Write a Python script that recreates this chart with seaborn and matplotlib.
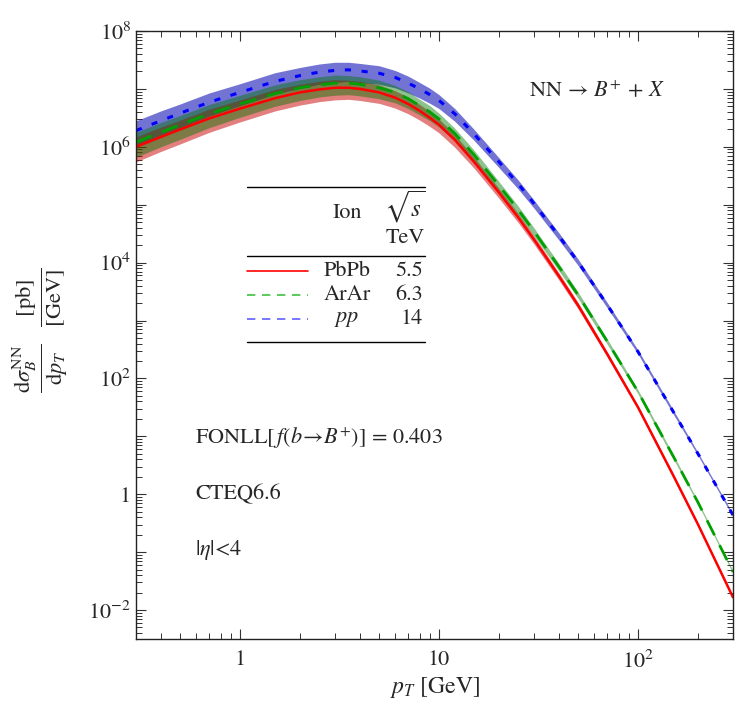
import numpy as np
import pandas as pd
import seaborn as sns
import matplotlib.pyplot as plt
from matplotlib.lines import Line2D
from matplotlib.ticker import LogLocator, FuncFormatter, NullFormatter

# pT grid [GeV] and log10 of dsigma/dpT [pb/GeV]
pt = [0.3, 0.4, 0.5, 0.7, 1, 1.5, 2, 2.5, 3, 3.5, 4, 5, 6, 7, 8, 9, 10, 12, 15,
      20, 25, 30, 40, 50, 70, 100, 150, 200, 300]
log_pbpb = [6.00, 6.17, 6.30, 6.49, 6.66, 6.84, 6.94, 6.99, 7.02, 7.02, 7.00, 6.94, 6.85, 6.74,
            6.62, 6.50, 6.38, 6.12, 5.74, 5.21, 4.78, 4.40, 3.77, 3.26, 2.42, 1.50, 0.33,
            -0.52, -1.78]
log_arar = [6.08, 6.25, 6.38, 6.57, 6.74, 6.92, 7.02, 7.07, 7.10, 7.10, 7.08, 7.02, 6.94, 6.83,
            6.71, 6.60, 6.48, 6.23, 5.86, 5.33, 4.91, 4.54, 3.93, 3.44, 2.64, 1.77, 0.66,
            -0.14, -1.34]
log_pp = [6.28, 6.45, 6.58, 6.77, 6.94, 7.13, 7.23, 7.29, 7.32, 7.33, 7.31, 7.27, 7.20, 7.10,
          7.00, 6.90, 6.80, 6.57, 6.22, 5.74, 5.36, 5.02, 4.46, 4.01, 3.27, 2.46, 1.43,
          0.70, -0.36]
# uncertainty band, log10 offsets above / below the central curve
unc_up = [0.17, 0.17, 0.16, 0.16, 0.15, 0.15, 0.14, 0.14, 0.14, 0.13, 0.13, 0.13, 0.12, 0.12,
          0.11, 0.11, 0.10, 0.09, 0.08, 0.07, 0.065, 0.06, 0.055, 0.05, 0.04, 0.03, 0.03,
          0.02, 0.02]
unc_dn = [0.26, 0.25, 0.25, 0.24, 0.23, 0.22, 0.22, 0.21, 0.21, 0.20, 0.20, 0.19, 0.18, 0.17,
          0.16, 0.15, 0.14, 0.13, 0.11, 0.10, 0.09, 0.08, 0.07, 0.06, 0.05, 0.04, 0.04,
          0.03, 0.03]

ions = ['PbPb', 'ArAr', 'pp']
ion_labels = ['PbPb', 'ArAr', '$pp$']
sqrt_s = ['5.5', '6.3', '14']

rows = []
for ion, vals in zip(ions, [log_pbpb, log_arar, log_pp]):
    for p, v, u, d in zip(pt, vals, unc_up, unc_dn):
        rows.append({'pt': p, 'ion': ion, 'y': 10 ** v, 'hi': 10 ** (v + u), 'lo': 10 ** (v - d)})
df = pd.DataFrame(rows)

sns.set_style('ticks')
plt.rcParams['font.family'] = ['STIXGeneral', 'DejaVu Serif']
plt.rcParams['mathtext.fontset'] = 'stix'

W, H = 750, 705
YMIN, YMAX = 10 ** -2.5, 1e8
fig = plt.figure(figsize=(W / 100, H / 100), dpi=100)
ax = fig.add_axes([136 / W, 1 - 639 / H, (733 - 136) / W, (639 - 31) / H])


def fx(x):
    return x / W


def fy(y):
    return 1 - y / H


band_col = {'pp': ('#0000b0', 0.55), 'PbPb': ('#c80000', 0.5), 'ArAr': ('#007800', 0.45)}
for ion in ['pp', 'PbPb', 'ArAr']:
    d = df[df.ion == ion]
    c, a = band_col[ion]
    ax.fill_between(d.pt, d.lo, d.hi, color=c, alpha=a, lw=0)

line_style = {
    'PbPb': dict(color='#ff0000', linestyle='-', linewidth=1.8),
    'ArAr': dict(color='#00a000', linestyle=(0, (6, 4)), linewidth=2.0),
    'pp': dict(color='#0000ff', linestyle=(0, (2, 3.5)), linewidth=2.2),
}
for ion in ['PbPb', 'ArAr', 'pp']:
    sns.lineplot(data=df[df.ion == ion], x='pt', y='y', ax=ax, legend=False, **line_style[ion])

ax.set_xscale('log')
ax.set_yscale('log')
ax.set_xlim(0.3, 300)
ax.set_ylim(YMIN, YMAX)

ax.yaxis.set_major_locator(LogLocator(base=10, numticks=20))
ax.yaxis.set_minor_locator(LogLocator(base=10, subs=np.arange(2, 10), numticks=20))
ax.xaxis.set_major_locator(LogLocator(base=10, numticks=10))
ax.xaxis.set_minor_locator(LogLocator(base=10, subs=np.arange(2, 10), numticks=10))
ax.xaxis.set_minor_formatter(NullFormatter())
ax.yaxis.set_minor_formatter(NullFormatter())


def yfmt(v, pos):
    if v < YMIN * 0.999 or v > YMAX * 1.001:
        return ''
    e = int(round(np.log10(v)))
    if e % 2:
        return ''
    if e == 0:
        return '1'
    return '$10^{%d}$' % e


def xfmt(v, pos):
    if v < 0.3 or v > 300:
        return ''
    e = int(round(np.log10(v)))
    return {0: '1', 1: '10'}.get(e, '$10^{%d}$' % e)


ax.yaxis.set_major_formatter(FuncFormatter(yfmt))
ax.xaxis.set_major_formatter(FuncFormatter(xfmt))
ax.tick_params(which='both', direction='in', top=True, right=True, color='#333333', labelsize=16)
ax.tick_params(which='major', length=7, width=0.8)
ax.tick_params(which='minor', length=4, width=0.7)
ax.tick_params(axis='x', pad=8)
for s in ax.spines.values():
    s.set_linewidth(1.0)
    s.set_color('#222222')

ax.set_xlabel('')
ax.set_ylabel('')
fig.text(fx(435), fy(687), '$p_T$ [GeV]', ha='center', va='center', fontsize=17)
fig.text(fx(40), fy(330),
         r'$\frac{\mathrm{d}\sigma_B^{\mathrm{NN}}}{\mathrm{d}p_T}\ \ \frac{[\mathrm{pb}]}{[\mathrm{GeV}]}$',
         rotation=90, ha='center', va='center', fontsize=23)

fig.text(fx(597), fy(92), r'NN$\,\rightarrow\,B^{+}\,+\,X$', ha='center', va='center', fontsize=16)
fig.text(fx(195), fy(438), r'FONLL[$\,f(b\!\rightarrow\!B^{+})$] = 0.403', ha='left', va='center', fontsize=16)
fig.text(fx(195), fy(494), 'CTEQ6.6', ha='left', va='center', fontsize=16)
fig.text(fx(195), fy(550), r'$|\eta|$<4', ha='left', va='center', fontsize=16)

# legend table
for yy in [187, 256, 342]:
    fig.add_artist(Line2D([fx(247), fx(425)], [fy(yy), fy(yy)], color='black', lw=1.0))
fig.text(fx(347), fy(213), 'Ion', ha='center', va='center', fontsize=16)
fig.text(fx(405), fy(207), r'$\sqrt{s}$', ha='center', va='center', fontsize=18)
fig.text(fx(405), fy(238), 'TeV', ha='center', va='center', fontsize=16)
legend_style = {
    'PbPb': dict(color='#ff0000', linestyle='-', lw=1.2),
    'ArAr': dict(color='#40c040', linestyle=(0, (5, 4)), lw=1.2),
    'pp': dict(color='#6060ff', linestyle=(0, (5, 4)), lw=1.2),
}
for i, (ion, lab, s) in enumerate(zip(ions, ion_labels, sqrt_s)):
    yy = 271 + 24 * i
    fig.add_artist(Line2D([fx(247), fx(308)], [fy(yy), fy(yy)], **legend_style[ion]))
    fig.text(fx(347), fy(yy), lab, ha='center', va='center', fontsize=16)
    fig.text(fx(423), fy(yy), s, ha='right', va='center', fontsize=16)

fig.savefig('out.png', dpi=100)
